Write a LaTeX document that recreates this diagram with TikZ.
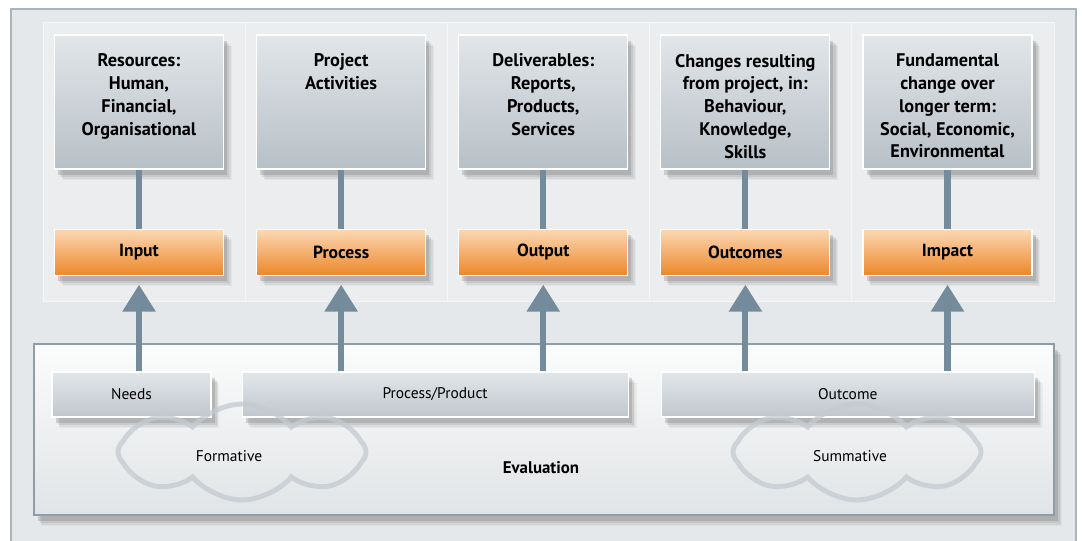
\documentclass[tikz,border=0pt]{standalone}
\usepackage{fontspec}
\setmainfont{PT Sans}
\usetikzlibrary{positioning,shadows,shapes.symbols,arrows.meta,backgrounds}

% Colours
\definecolor{pagegrey}{HTML}{E5E8EA}
\definecolor{pageline}{HTML}{A9B4BC}
\definecolor{colgrey}{HTML}{EBEDEF}
\definecolor{boxtop}{HTML}{E2E6E9}
\definecolor{boxbottom}{HTML}{B7C0C7}
\definecolor{orangetop}{HTML}{FCD8B6}
\definecolor{orangebottom}{HTML}{EC8829}
\definecolor{evaltop}{HTML}{FBFCFC}
\definecolor{evalbottom}{HTML}{E1E4E6}
\definecolor{evalline}{HTML}{8F9DA7}
\definecolor{stemgrey}{HTML}{738B9A}
\definecolor{cloudgrey}{HTML}{C3CAD0}

\newcommand{\boxtext}[1]{\parbox[t][2.4cm][t]{4.15cm}{\centering\fontsize{13}{16.2}\selectfont\bfseries #1}}

\tikzset{
	softshadow/.style={
		drop shadow={shadow xshift=6pt, shadow yshift=-8pt, opacity=.08},
		drop shadow={shadow xshift=5pt, shadow yshift=-7pt, opacity=.12},
		drop shadow={shadow xshift=4pt, shadow yshift=-5.5pt, opacity=.18},
		drop shadow={shadow xshift=2.5pt, shadow yshift=-4pt, opacity=.3}},
	topbox/.style={softshadow, draw=white, line width=0.8pt, top color=boxtop,
		bottom color=boxbottom, minimum width=4.225cm, minimum height=3.35cm, inner sep=0pt},
	stagebox/.style={softshadow, draw=white, line width=0.8pt, top color=orangetop,
		bottom color=orangebottom, minimum width=4.225cm, minimum height=1.15cm,
		font=\fontsize{12.5}{14}\selectfont\bfseries},
	evalpanel/.style={softshadow, draw=evalline, line width=0.8pt, top color=evaltop,
		bottom color=evalbottom, minimum width=25.5cm, minimum height=4.275cm},
	evalbox/.style={softshadow, draw=white, line width=0.8pt, top color=boxtop,
		bottom color=boxbottom!80!boxtop, minimum height=1.125cm,
		font=\fontsize{11}{13}\selectfont},
	colpanel/.style={fill=colgrey, draw=white!50!colgrey, line width=0.6pt},
	stem/.style={line width=4.3pt, draw=stemgrey},
	rise/.style={line width=4.3pt, draw=stemgrey, fill=stemgrey,
		-{Triangle[length=0.675cm, width=0.8cm]}, shorten >=0.225cm},
	puff/.style={cloud, cloud puffs=8, cloud puff arc=100, aspect=2.6, draw=cloudgrey,
		line width=3.5pt, draw opacity=.75, minimum width=6.2cm, minimum height=2.4cm,
		font=\fontsize{11}{13}\selectfont},
}

\begin{document}
\begin{tikzpicture}

	\useasboundingbox (0,0) rectangle (27.05,-13.5);

	% Top row: what goes in and what comes out
	\node[topbox] (res) at (3.475,-2.55) {\boxtext{Resources:\\Human,\\Financial,\\Organisational}};
	\node[topbox, right=0.8cm of res] (act) {\boxtext{Project\\Activities}};
	\node[topbox, right=0.8cm of act] (deliv) {\boxtext{Deliverables:\\Reports,\\Products,\\Services}};
	\node[topbox, right=0.8cm of deliv] (change) {\boxtext{Changes resulting\\from project, in:\\Behaviour,\\Knowledge,\\Skills}};
	\node[topbox, right=0.8cm of change] (fund) {\boxtext{Fundamental\\change over\\longer term:\\Social, Economic,\\Environmental}};

	% Stages
	\node[stagebox, below=1.475cm of res] (inp) {Input};
	\node[stagebox, below=1.475cm of act] (proc) {Process};
	\node[stagebox, below=1.475cm of deliv] (outp) {Output};
	\node[stagebox, below=1.475cm of change] (outc) {Outcomes};
	\node[stagebox, below=1.475cm of fund] (imp) {Impact};

	\foreach \a/\b in {res/inp, act/proc, deliv/outp, change/outc, fund/imp}
		\draw[stem] (\a) -- (\b);

	% Page and column panels behind everything
	\begin{pgfonlayer}{background}
		\draw[fill=pagegrey, draw=pageline, line width=0.8pt] (0.275,-13.8) |- (26.9,-0.225) -- (26.9,-13.8);
		\foreach \a/\b in {res/inp, act/proc, deliv/outp, change/outc, fund/imp}
			\draw[colpanel] ([xshift=-0.275cm, yshift=0.3cm]\a.north west) rectangle ([xshift=0.55cm, yshift=-0.65cm]\b.south east);
	\end{pgfonlayer}

	% Evaluation
	\node[evalpanel] (evalframe) at (13.6,-10.7375) {};
	\node[evalbox, minimum width=3.975cm] (needs) at (3.2875,-9.8625) {Needs};
	\node[evalbox, minimum width=9.65cm, right=0.75cm of needs] (procprod) {Process/Product};
	\node[evalbox, minimum width=9.325cm, right=0.8cm of procprod] (outcome) {Outcome};

	\node[puff] (formcloud) at (6.05,-11.3) {};
	\node[puff] (summcloud) at (21.425,-11.3) {};
	\node[font=\fontsize{11}{13}\selectfont] (formlabel) at (5.725,-11.4) {Formative};
	\node[font=\fontsize{11}{13}\selectfont] (summlabel) at (21.25,-11.4) {Summative};
	\node[font=\fontsize{12}{14}\selectfont\bfseries] (evaltitle) at (13.525,-11.7) {Evaluation};

	% Arrows up to the stages
	\draw[rise] (needs.north -| inp) -- (inp);
	\draw[rise] (procprod.north -| proc) -- (proc);
	\draw[rise] (procprod.north -| outp) -- (outp);
	\draw[rise] (outcome.north -| outc) -- (outc);
	\draw[rise] (outcome.north -| imp) -- (imp);
\end{tikzpicture}
\end{document}
